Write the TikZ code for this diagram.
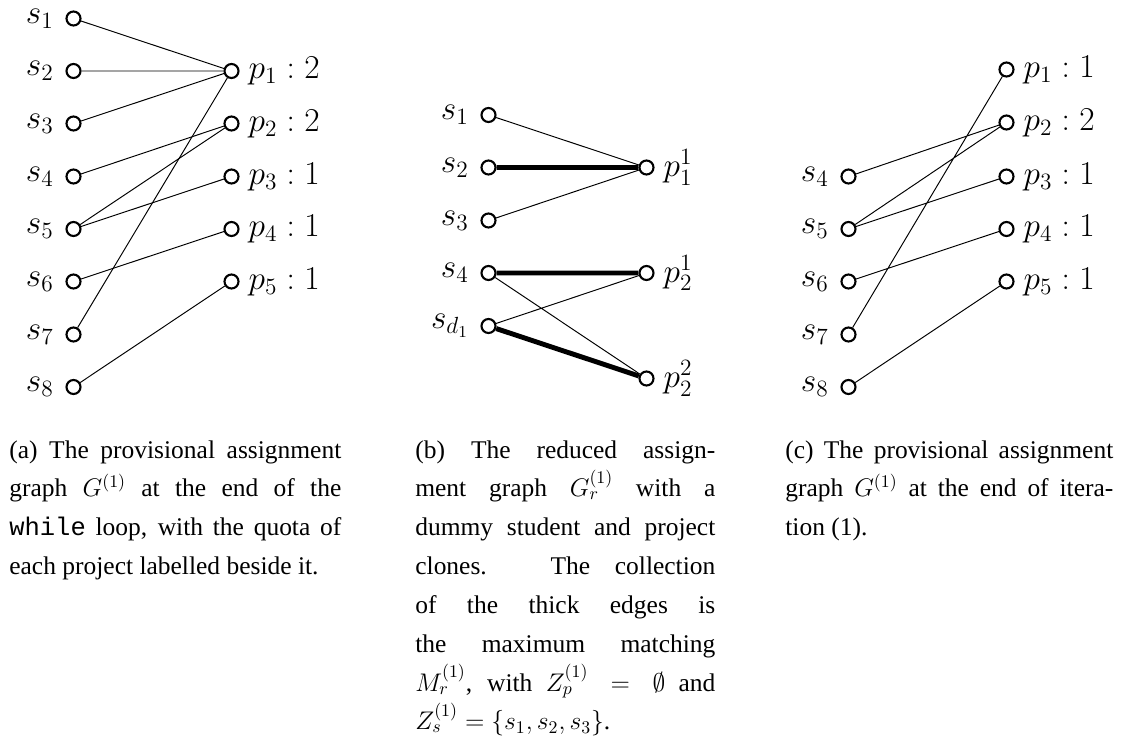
\RequirePackage{fix-cm}
\documentclass[tikz,border=0pt]{standalone}
\usepackage{amsmath}
\usepackage{amssymb}
\usepackage{fontspec}
\setmainfont{Liberation Serif}
\setmonofont{Liberation Mono}
\usepackage{tikz}
\usetikzlibrary{positioning}
\tikzset{
  vx/.style={circle,draw=black,fill=white,minimum size=2.8mm,inner sep=0pt,line width=1.2pt},
  ed/.style={draw=black,line width=.55pt},
  edm/.style={draw=black,line width=2.8pt},
  lbs/.style={font=\fontsize{19}{22}\selectfont,inner xsep=6.5pt,inner ysep=0pt},
  lbp/.style={font=\fontsize{19}{22}\selectfont,inner xsep=5pt,inner ysep=0pt},
  % captions sit under each graph as a justified block
  capt/.style={anchor=base west,align=justify,inner sep=0pt,
    font=\fontsize{14.5}{22.1}\selectfont},
}

\begin{document}
\begin{tikzpicture}
\useasboundingbox (0,0) rectangle (22.46,-14.88);
% ---- (a) provisional assignment graph
\begin{scope}
  \node[vx,label={[lbs]left:$s_1$}] (sa1) at (1.47,-0.37) {};
  \node[vx,label={[lbs]left:$s_2$}] (sa2) at (1.47,-1.42) {};
  \node[vx,label={[lbs]left:$s_3$}] (sa3) at (1.47,-2.47) {};
  \node[vx,label={[lbs]left:$s_4$}] (sa4) at (1.47,-3.53) {};
  \node[vx,label={[lbs]left:$s_5$}] (sa5) at (1.47,-4.58) {};
  \node[vx,label={[lbs]left:$s_6$}] (sa6) at (1.47,-5.63) {};
  \node[vx,label={[lbs]left:$s_7$}] (sa7) at (1.47,-6.69) {};
  \node[vx,label={[lbs]left:$s_8$}] (sa8) at (1.47,-7.74) {};
  \node[vx,label={[lbp]right:$p_1 : 2$}] (pa1) at (4.63,-1.42) {};
  \node[vx,label={[lbp]right:$p_2 : 2$}] (pa2) at (4.63,-2.47) {};
  \node[vx,label={[lbp]right:$p_3 : 1$}] (pa3) at (4.63,-3.53) {};
  \node[vx,label={[lbp]right:$p_4 : 1$}] (pa4) at (4.63,-4.58) {};
  \node[vx,label={[lbp]right:$p_5 : 1$}] (pa5) at (4.63,-5.63) {};
  \draw[ed] (sa1)--(pa1) (sa2)--(pa1) (sa3)--(pa1) (sa7)--(pa1);
  \draw[ed] (sa4)--(pa2) (sa5)--(pa2) (sa5)--(pa3) (sa6)--(pa4) (sa8)--(pa5);
  \node[capt,text width=6.64cm] (capa) at (0.18,-9.16) {(a) The provisional assignment\linebreak
    graph $G^{(1)}$ at the end of the\linebreak
    \texttt{while} loop, with the quota of\linebreak
    each project labelled beside it.};
\end{scope}
% ---- (b) reduced assignment graph
\begin{scope}[xshift=8.3cm]
  \node[vx,label={[lbs]left:$s_1$}] (sb1) at (1.47,-2.30) {};
  \node[vx,label={[lbs]left:$s_2$}] (sb2) at (1.47,-3.35) {};
  \node[vx,label={[lbs]left:$s_3$}] (sb3) at (1.47,-4.41) {};
  \node[vx,label={[lbs]left:$s_4$}] (sb4) at (1.47,-5.46) {};
  \node[vx,label={[lbs]left:$s_{d_1}$}] (sbd) at (1.47,-6.52) {};
  \node[vx,label={[lbp]right:$p_1^1$}] (pb11) at (4.63,-3.35) {};
  \node[vx,label={[lbp]right:$p_2^1$}] (pb21) at (4.63,-5.46) {};
  \node[vx,label={[lbp]right:$p_2^2$}] (pb22) at (4.63,-7.57) {};
  \draw[ed] (sb1)--(pb11) (sb3)--(pb11) (sb4)--(pb22) (sbd)--(pb21);
  \draw[edm] (sb2)--(pb11) (sb4)--(pb21) (sbd)--(pb22);
  \node[capt,text width=6.0cm] (capb) at (0.0,-9.16) {(b) The reduced assign-\linebreak
    ment graph $G_r^{(1)}$ with a\linebreak
    dummy student and project\linebreak
    clones. The collection\linebreak
    of the thick edges is\linebreak
    the maximum matching\linebreak
    $M_r^{(1)}$, with $Z_p^{(1)} = \emptyset$ and\linebreak
    $Z_s^{(1)} = \{s_1, s_2, s_3\}$.};
\end{scope}
% ---- (c) provisional assignment graph after iteration
\begin{scope}[xshift=15.5cm]
  \node[vx,label={[lbs]left:$s_4$}] (sc4) at (1.47,-3.53) {};
  \node[vx,label={[lbs]left:$s_5$}] (sc5) at (1.47,-4.58) {};
  \node[vx,label={[lbs]left:$s_6$}] (sc6) at (1.47,-5.63) {};
  \node[vx,label={[lbs]left:$s_7$}] (sc7) at (1.47,-6.69) {};
  \node[vx,label={[lbs]left:$s_8$}] (sc8) at (1.47,-7.74) {};
  \node[vx,label={[lbp]right:$p_1 : 1$}] (pc1) at (4.63,-1.39) {};
  \node[vx,label={[lbp]right:$p_2 : 2$}] (pc2) at (4.63,-2.45) {};
  \node[vx,label={[lbp]right:$p_3 : 1$}] (pc3) at (4.63,-3.53) {};
  \node[vx,label={[lbp]right:$p_4 : 1$}] (pc4) at (4.63,-4.58) {};
  \node[vx,label={[lbp]right:$p_5 : 1$}] (pc5) at (4.63,-5.63) {};
  \draw[ed] (sc7)--(pc1) (sc4)--(pc2) (sc5)--(pc2) (sc5)--(pc3) (sc6)--(pc4) (sc8)--(pc5);
  \node[capt,text width=6.56cm] (capc) at (0.2,-9.16) {(c) The provisional assignment\linebreak
    graph $G^{(1)}$ at the end of itera-\linebreak
    tion (1).};
\end{scope}
\end{tikzpicture}
\end{document}
